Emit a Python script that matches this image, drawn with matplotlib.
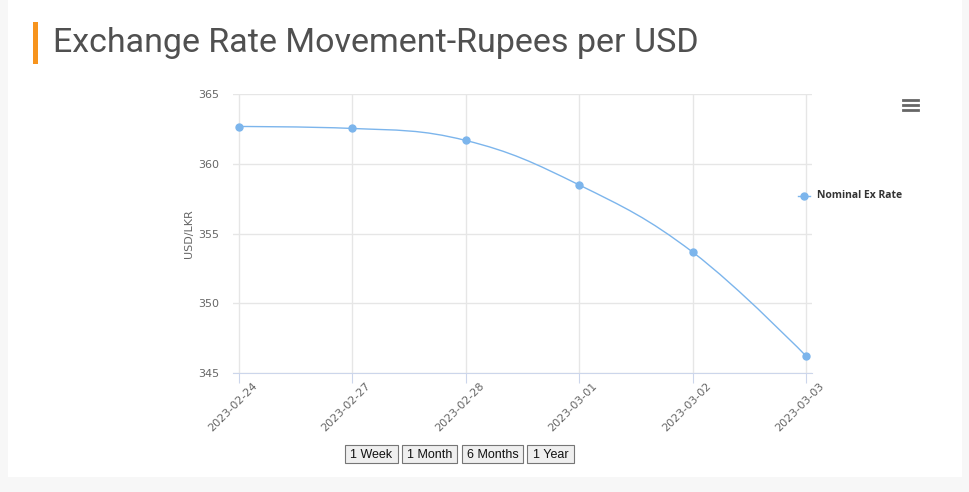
import matplotlib.pyplot as plt
from matplotlib.path import Path
from matplotlib.patches import PathPatch, Rectangle
from matplotlib.transforms import ScaledTranslation
import numpy as np

# Daten
dates = ["2023-02-24", "2023-02-27", "2023-02-28", "2023-03-01", "2023-03-02", "2023-03-03"]
rates = [362.67, 362.53, 361.67, 358.48, 353.67, 346.22]
y_ticks = [345, 350, 355, 360, 365]
buttons = ["1 Week", "1 Month", "6 Months", "1 Year"]

LINE = "#7cb5ec"
GRID = "#e6e6e6"
TXT = "#666666"


def spline_path(xs, ys, smoothing=1.5):
    # Highcharts-artige Spline-Kontrollpunkte
    n = len(xs)
    denom = smoothing + 1
    left = [None] * n
    right = [None] * n
    for i in range(1, n - 1):
        lx = (smoothing * xs[i] + xs[i - 1]) / denom
        ly = (smoothing * ys[i] + ys[i - 1]) / denom
        rx = (smoothing * xs[i] + xs[i + 1]) / denom
        ry = (smoothing * ys[i] + ys[i + 1]) / denom
        if rx != lx:
            corr = (ry - ly) * (rx - xs[i]) / (rx - lx) + ys[i] - ry
            ly += corr
            ry += corr
        if ly > max(ys[i - 1], ys[i]):
            ly = max(ys[i - 1], ys[i]); ry = 2 * ys[i] - ly
        elif ly < min(ys[i - 1], ys[i]):
            ly = min(ys[i - 1], ys[i]); ry = 2 * ys[i] - ly
        if ry > max(ys[i + 1], ys[i]):
            ry = max(ys[i + 1], ys[i]); ly = 2 * ys[i] - ry
        elif ry < min(ys[i + 1], ys[i]):
            ry = min(ys[i + 1], ys[i]); ly = 2 * ys[i] - ry
        left[i] = (lx, ly)
        right[i] = (rx, ry)
    verts = [(xs[0], ys[0])]
    codes = [Path.MOVETO]
    for i in range(1, n):
        c1 = right[i - 1] if right[i - 1] else (xs[i - 1], ys[i - 1])
        c2 = left[i] if left[i] else (xs[i], ys[i])
        verts += [c1, c2, (xs[i], ys[i])]
        codes += [Path.CURVE4] * 3
    return Path(verts, codes)


fig = plt.figure(figsize=(9.7, 4.92), dpi=100)
fig.patch.set_facecolor("#f7f7f7")
fig.patches.append(Rectangle((8 / 970, 1 - 477 / 492), 954 / 970, 477 / 492,
                             transform=fig.transFigure, facecolor="white",
                             edgecolor="none", zorder=-5))

# Titel mit orangem Balken
fig.patches.append(Rectangle((33 / 970, 1 - 64 / 492), 5 / 970, 42 / 492,
                             transform=fig.transFigure, facecolor="#f7941d",
                             edgecolor="none"))
fig.text(53 / 970, 1 - 43 / 492, "Exchange Rate Movement-Rupees per USD",
         fontsize=24.5, family="Roboto", color="#505050", va="center", ha="left")

ax = fig.add_axes([233 / 970, 1 - 373 / 492, 579 / 970, 279 / 492])
ax.set_facecolor("none")
x = np.arange(len(dates))
ax.add_patch(PathPatch(spline_path(list(x), rates), facecolor="none",
                       edgecolor=LINE, lw=1, zorder=3))
ax.plot(x, rates, ls="none", marker="o", ms=5, color=LINE, zorder=4)

ax.set_xlim(-0.053, len(dates) - 1 + 0.053)
ax.set_ylim(345, 365)
ax.set_yticks(y_ticks)
ax.set_yticklabels([str(v) for v in y_ticks], fontsize=8, color=TXT)
ax.set_xticks(x)
ax.set_xticklabels([])
# gedrehte Datumsbeschriftungen, etwas rechts vom Tick wie im Original
lab_tr = ax.get_xaxis_transform() + ScaledTranslation(13 / 100, -8 / 100, fig.dpi_scale_trans)
for xi, d in zip(x, dates):
    ax.text(xi, 0, d, transform=lab_tr, rotation=45, ha="right", va="top",
            rotation_mode="anchor", fontsize=8, color=TXT, clip_on=False)
ax.tick_params(axis="y", length=0, pad=10)
ax.tick_params(axis="x", length=7, color="#ccd6eb", direction="out")
ax.grid(True, color=GRID, lw=1)
ax.set_axisbelow(True)
for s in ["top", "right", "left"]:
    ax.spines[s].set_visible(False)
ax.spines["bottom"].set_color("#ccd6eb")
ax.set_ylabel("USD/LKR", fontsize=8, color=TXT, labelpad=3)

# Legende
fig.add_artist(plt.Line2D([798 / 970, 810 / 970], [1 - 196 / 492] * 2,
                          transform=fig.transFigure, color=LINE, lw=1))
fig.add_artist(plt.Line2D([804 / 970], [1 - 196 / 492], transform=fig.transFigure,
                          color=LINE, marker="o", ms=5))
fig.text(817 / 970, 1 - 196 / 492, "Nominal Ex Rate", fontsize=7.5, fontweight="bold",
         family="Open Sans", color="#333333", va="center", ha="left")

# Menü-Symbol
for yy in [99.5, 104.5, 109.5]:
    fig.add_artist(plt.Line2D([903 / 970, 918 / 970], [1 - yy / 492] * 2,
                              transform=fig.transFigure, color="#666666", lw=2))

# Schaltflächen
bx = [345, 402, 462, 527]
bw = [53, 55, 61, 47]
for lbl, x0, w in zip(buttons, bx, bw):
    fig.patches.append(Rectangle((x0 / 970, 1 - 463 / 492), w / 970, 18 / 492,
                                 transform=fig.transFigure, facecolor="#efefef",
                                 edgecolor="#767676", lw=0.8))
    fig.text((x0 + w / 2) / 970, 1 - 454.5 / 492, lbl, fontsize=9, family="Liberation Sans",
             color="#111111", ha="center", va="center")

fig.savefig("out.png", dpi=100, facecolor=fig.get_facecolor())
